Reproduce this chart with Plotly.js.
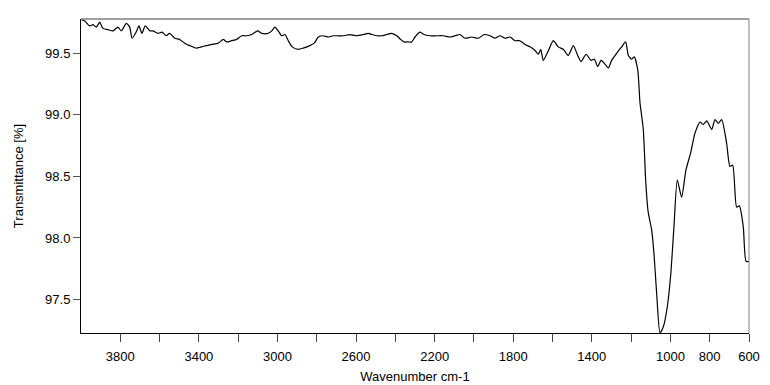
<!DOCTYPE html>
<html>
<head>
<meta charset="utf-8">
<script src="https://cdn.plot.ly/plotly-3.0.1.min.js"></script>
<style>html,body{margin:0;padding:0;background:#fff;}#chart{width:770px;height:385px;}</style>
</head>
<body>
<div id="chart"></div>
<script>
// Wavenumber (cm-1) and transmittance (%)
const wavenumber = [
  3998, 3981, 3956, 3939, 3922, 3905, 3888, 3863, 3837, 3812, 3795, 3769, 3752, 3740, 3719, 3705,
  3690, 3673, 3650, 3634, 3608, 3588, 3566, 3549, 3523, 3498, 3472, 3447, 3430, 3413, 3388, 3362,
  3335, 3301, 3276, 3258, 3233, 3208, 3182, 3157, 3131, 3101, 3080, 3047, 3029, 3013, 2992, 2979,
  2962, 2945, 2925, 2894, 2869, 2835, 2813, 2792, 2767, 2741, 2716, 2699, 2665, 2631, 2597, 2563,
  2538, 2520, 2495, 2470, 2444, 2419, 2393, 2373, 2356, 2334, 2317, 2300, 2275, 2254, 2224, 2190,
  2156, 2122, 2096, 2071, 2046, 2011, 1978, 1947, 1918, 1893, 1867, 1842, 1816, 1791, 1766, 1740,
  1715, 1689, 1672, 1660, 1647, 1621, 1596, 1571, 1545, 1520, 1494, 1472, 1455, 1429, 1404, 1387,
  1370, 1353, 1333, 1316, 1299, 1273, 1248, 1228, 1214, 1197, 1184, 1166, 1155, 1138, 1126, 1114,
  1095, 1084, 1070, 1053, 1036, 1016, 998, 982, 965, 943, 921, 897, 875, 849, 833, 815,
  790, 773, 756, 739, 714, 697, 683, 663, 649, 629, 615, 600
];
const transmittance = [
  99.77, 99.76, 99.72, 99.73, 99.71, 99.75, 99.70, 99.69, 99.68, 99.71, 99.68, 99.74, 99.71, 99.62, 99.67, 99.72,
  99.66, 99.72, 99.68, 99.68, 99.66, 99.67, 99.64, 99.66, 99.62, 99.61, 99.58, 99.56, 99.55, 99.54, 99.55, 99.56,
  99.57, 99.58, 99.61, 99.59, 99.60, 99.61, 99.64, 99.64, 99.65, 99.68, 99.66, 99.66, 99.68, 99.71, 99.67, 99.64,
  99.65, 99.60, 99.55, 99.53, 99.54, 99.56, 99.58, 99.63, 99.64, 99.63, 99.64, 99.64, 99.64, 99.65, 99.64, 99.65,
  99.66, 99.65, 99.64, 99.64, 99.65, 99.66, 99.64, 99.61, 99.59, 99.59, 99.59, 99.63, 99.67, 99.65, 99.64, 99.64,
  99.64, 99.63, 99.64, 99.65, 99.62, 99.63, 99.62, 99.65, 99.64, 99.62, 99.64, 99.62, 99.63, 99.60, 99.60, 99.57,
  99.55, 99.52, 99.49, 99.53, 99.44, 99.52, 99.60, 99.55, 99.53, 99.48, 99.56, 99.48, 99.43, 99.49, 99.44, 99.45,
  99.39, 99.44, 99.41, 99.38, 99.44, 99.50, 99.55, 99.59, 99.48, 99.45, 99.47, 99.36, 99.10, 98.88, 98.47, 98.22,
  98.06, 97.88, 97.55, 97.23, 97.28, 97.44, 97.71, 98.09, 98.47, 98.33, 98.55, 98.69, 98.85, 98.94, 98.92, 98.95,
  98.88, 98.96, 98.93, 98.96, 98.77, 98.58, 98.59, 98.25, 98.26, 98.09, 97.81, 97.81
];
const xTickVals = [3800, 3600, 3400, 3200, 3000, 2800, 2600, 2400, 2200, 2000, 1800, 1600, 1400, 1200, 1000, 800, 600];
const xTickText = ['3800', '', '3400', '', '3000', '', '2600', '', '2200', '', '1800', '', '1400', '', '1000', '800', '600'];
const yTickVals = [97.5, 98.0, 98.5, 99.0, 99.5];
const yTickText = ['97.5', '98.0', '98.5', '99.0', '99.5'];

const trace = {
  x: wavenumber,
  y: transmittance,
  type: 'scatter',
  mode: 'lines',
  line: {color: '#000', width: 1.2, shape: 'spline', smoothing: 0.6},
  hoverinfo: 'x+y'
};

const font = {family: '"Liberation Sans", Arial, sans-serif', size: 13, color: '#000'};

const layout = {
  width: 770,
  height: 385,
  margin: {l: 81, r: 21, t: 19, b: 52},
  paper_bgcolor: '#fff',
  plot_bgcolor: '#fff',
  font: font,
  showlegend: false,
  xaxis: {
    range: [4000, 600],
    tickmode: 'array',
    tickvals: xTickVals,
    ticktext: xTickText,
    ticks: 'outside',
    ticklen: 8,
    tickwidth: 1,
    tickcolor: '#444',
    ticklabelstandoff: 3,
    showline: true,
    linecolor: '#000',
    linewidth: 1,
    showgrid: false,
    zeroline: false,
    tickfont: font,
    title: {text: 'Wavenumber cm-1', font: font, standoff: 9}
  },
  yaxis: {
    range: [97.229, 99.776],
    tickmode: 'array',
    tickvals: yTickVals,
    ticktext: yTickText,
    ticks: 'outside',
    ticklen: 7,
    tickwidth: 1,
    tickcolor: '#555',
    showline: true,
    linecolor: '#000',
    linewidth: 1,
    showgrid: false,
    zeroline: false,
    tickfont: font,
    title: {text: 'Transmittance [%]', font: font, standoff: 18}
  },
  shapes: [
    {type: 'line', xref: 'paper', yref: 'paper', x0: 0, x1: 1, y0: 1, y1: 1, line: {color: '#808080', width: 1.5}},
    {type: 'line', xref: 'paper', yref: 'paper', x0: 1, x1: 1, y0: 0, y1: 1, line: {color: '#808080', width: 1}}
  ]
};

Plotly.newPlot('chart', [trace], layout, {displayModeBar: false, staticPlot: true});
</script>
</body>
</html>
